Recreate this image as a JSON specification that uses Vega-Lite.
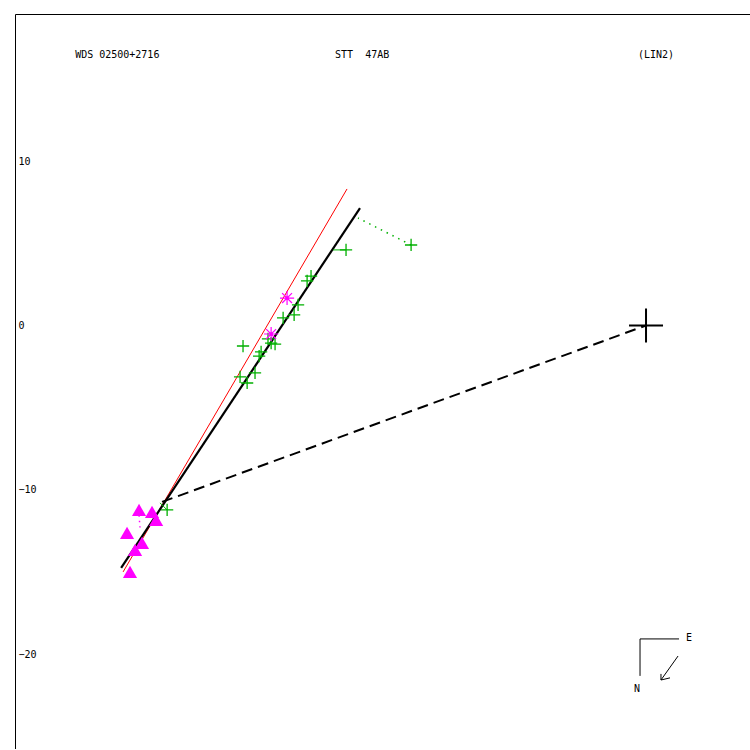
{
  "$schema": "https://vega.github.io/schema/vega-lite/v6.json",
  "autosize": {"type": "none"},
  "padding": {"left": 15, "top": 14, "right": 0, "bottom": 0},
  "width": 736,
  "height": 735,
  "background": "white",
  "config": {"view": {"stroke": "black", "strokeWidth": 1}, "font": "DejaVu Sans Mono"},
  "datasets": {
    "fit": [{"u": -31.95, "v": -14.76}, {"u": -17.41, "v": 7.15}],
    "red": [{"u": -31.83, "v": -15.0}, {"u": -18.2, "v": 8.31}],
    "dash": [{"u": 0, "v": 0}, {"u": -29.46, "v": -10.74}],
    "ocdot": [{"u": -14.3, "v": 4.9, "u2": -17.53, "v2": 6.54}],
    "ocsolid": [
      {"u": -18.26, "v": 4.6, "u2": -19.05, "v2": 4.6},
      {"u": -29.15, "v": -11.23, "u2": -29.58, "v2": -10.8}
    ],
    "ocmag": [{"u": -30.86, "v": -11.55, "u2": -30.8, "v2": -12.3}],
    "plus": [
      {"u": -29.15, "v": -11.23}, {"u": -24.53, "v": -1.25}, {"u": -24.71, "v": -3.13},
      {"u": -24.28, "v": -3.5}, {"u": -23.8, "v": -2.89}, {"u": -23.55, "v": -1.86},
      {"u": -23.43, "v": -1.61}, {"u": -23.01, "v": -0.82}, {"u": -22.82, "v": -1.07},
      {"u": -22.58, "v": -1.13}, {"u": -22.09, "v": 0.46}, {"u": -21.42, "v": 0.64},
      {"u": -21.18, "v": 1.25}, {"u": -20.63, "v": 2.71}, {"u": -20.39, "v": 3.01},
      {"u": -18.26, "v": 4.6}, {"u": -14.3, "v": 4.9}
    ],
    "star": [{"u": -21.85, "v": 1.67}, {"u": -22.82, "v": -0.52}],
    "tri": [
      {"u": -30.86, "v": -11.23}, {"u": -30.07, "v": -11.35}, {"u": -29.82, "v": -11.84},
      {"u": -31.59, "v": -12.63}, {"u": -30.68, "v": -13.24}, {"u": -31.1, "v": -13.66},
      {"u": -31.41, "v": -15.0}
    ],
    "primary": [{"u": 0, "v": 0}],
    "header": [
      {"u": -34.75, "v": 16.46, "label": "WDS 02500+2716"},
      {"u": -18.93, "v": 16.46, "label": "STT \u00a047AB"},
      {"u": -0.49, "v": 16.46, "label": "(LIN2)"}
    ],
    "compassText": [
      {"u": 2.62, "v": -19.05, "label": "E"},
      {"u": -0.55, "v": -22.15, "label": "N"}
    ],
    "compassLines": [
      {"u": -0.365, "v": -19.08, "u2": -0.365, "v2": -21.33},
      {"u": -0.365, "v": -19.08, "u2": 2.01, "v2": -19.08},
      {"u": 1.95, "v": -20.12, "u2": 0.91, "v2": -21.58},
      {"u": 0.91, "v": -21.58, "u2": 0.91, "v2": -21.21},
      {"u": 0.91, "v": -21.58, "u2": 1.46, "v2": -21.45}
    ]
  },
  "encoding": {
    "x": {"field": "u", "type": "quantitative", "scale": {"domain": [-38.41, 6.39], "nice": false, "zero": false}, "axis": null},
    "y": {"field": "v", "type": "quantitative", "scale": {"domain": [-25.78, 18.96], "nice": false, "zero": false},
      "axis": {"values": [10, 0, -10, -20], "ticks": false, "domain": false, "grid": false, "labelAlign": "left", "labelPadding": -3, "labelFont": "DejaVu Sans Mono", "labelFontSize": 10, "labelColor": "black", "title": null, "labelFlush": false}}
  },
  "layer": [
    {"data": {"name": "red"}, "mark": {"type": "line", "color": "#ff0000", "strokeWidth": 1}, "encoding": {}},
    {"data": {"name": "fit"}, "mark": {"type": "line", "color": "black", "strokeWidth": 2.2}, "encoding": {}},
    {"data": {"name": "dash"}, "mark": {"type": "line", "color": "black", "strokeWidth": 2, "strokeDash": [11, 6]}, "encoding": {}},
    {"data": {"name": "ocdot"}, "mark": {"type": "rule", "color": "#00b000", "strokeWidth": 1.5, "strokeDash": [1.5, 5]}, "encoding": {"x2": {"field": "u2"}, "y2": {"field": "v2"}}},
    {"data": {"name": "ocsolid"}, "mark": {"type": "rule", "color": "#00b000", "strokeWidth": 1}, "encoding": {"x2": {"field": "u2"}, "y2": {"field": "v2"}}},
    {"data": {"name": "ocmag"}, "mark": {"type": "rule", "color": "#ff00ff", "strokeWidth": 1.5, "strokeDash": [1.5, 4]}, "encoding": {"x2": {"field": "u2"}, "y2": {"field": "v2"}}},
    {"data": {"name": "tri"}, "mark": {"type": "point", "shape": "triangle-up", "filled": true, "color": "#ff00ff", "opacity": 1, "size": 200}, "encoding": {}},
    {"data": {"name": "plus"}, "mark": {"type": "point", "shape": "M-1,0L1,0M0,-1L0,1", "filled": false, "color": "#00b000", "opacity": 1, "size": 150, "strokeWidth": 1.3}, "encoding": {}},
    {"data": {"name": "star"}, "mark": {"type": "point", "shape": "M-1,0L1,0M0,-1L0,1M-0.7,-0.7L0.7,0.7M-0.7,0.7L0.7,-0.7", "filled": false, "color": "#ff00ff", "opacity": 1, "size": 200, "strokeWidth": 1.2}, "encoding": {}},
    {"data": {"name": "star"}, "mark": {"type": "point", "shape": "circle", "filled": true, "color": "#ff00ff", "opacity": 1, "size": 12}, "encoding": {}},
    {"data": {"name": "primary"}, "mark": {"type": "point", "shape": "M-1,0L1,0M0,-1L0,1", "filled": false, "color": "black", "opacity": 1, "size": 1156, "strokeWidth": 2}, "encoding": {}},
    {"data": {"name": "header"}, "mark": {"type": "text", "align": "left", "baseline": "middle", "fontSize": 10, "font": "DejaVu Sans Mono", "color": "black"}, "encoding": {"text": {"field": "label"}}},
    {"data": {"name": "compassText"}, "mark": {"type": "text", "align": "center", "baseline": "middle", "fontSize": 10, "font": "DejaVu Sans Mono", "color": "black"}, "encoding": {"text": {"field": "label"}}},
    {"data": {"name": "compassLines"}, "mark": {"type": "rule", "color": "black", "strokeWidth": 1}, "encoding": {"x2": {"field": "u2"}, "y2": {"field": "v2"}}}
  ]
}
